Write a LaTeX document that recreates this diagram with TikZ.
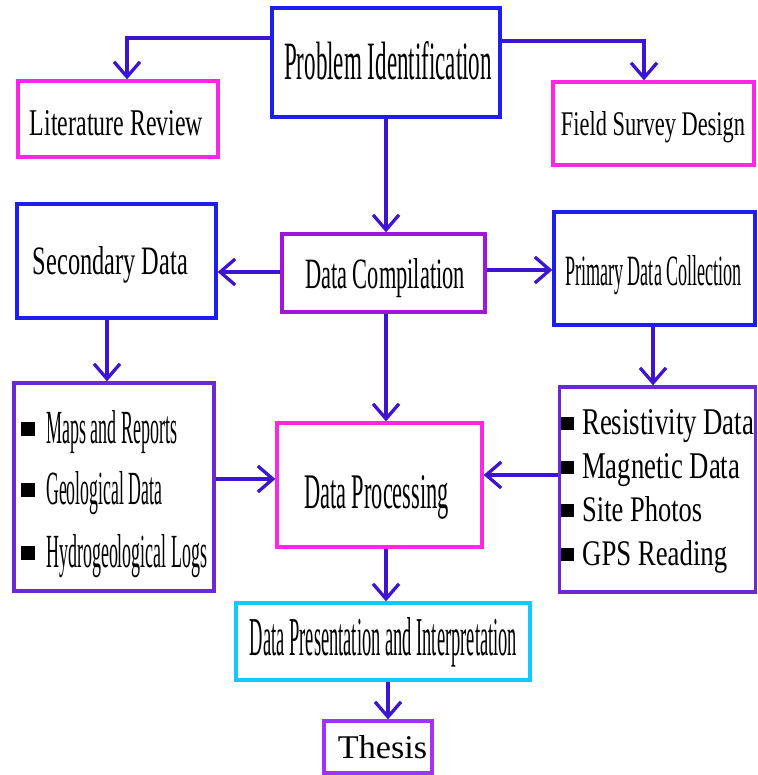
\documentclass[tikz,border=0pt]{standalone}
\usepackage{fontspec}
\setmainfont{Liberation Serif}
\usetikzlibrary{arrows.meta}
\definecolor{cBlue}{RGB}{30,30,240}
\definecolor{cMag}{RGB}{250,40,230}
\definecolor{cPur}{RGB}{160,20,220}
\definecolor{cVio}{RGB}{110,40,210}
\definecolor{cCyan}{RGB}{20,200,250}
\definecolor{cThe}{RGB}{160,50,250}
\definecolor{cArr}{RGB}{60,20,210}
\begin{document}
\begin{tikzpicture}[x=1pt,y=-1pt,
  bx/.style={draw, line width=3.3pt, inner sep=0pt, fill=white},
  txt/.style={anchor=base, inner sep=0pt, text=black},
  ltxt/.style={anchor=base west, inner sep=0pt, text=black},
  arr/.style={draw=cArr, line width=3.3pt, -{Straight Barb[length=15pt,width=26pt]}}]
\useasboundingbox[fill=white] (0,0) rectangle (757,775);
% boxes
\node[bx,draw=cBlue,minimum width=228pt,minimum height=109pt] (PI) at (386,62.5) {};
\node[bx,draw=cMag,minimum width=200pt,minimum height=76pt] (LR) at (118,119) {};
\node[bx,draw=cMag,minimum width=201pt,minimum height=83pt] (FSD) at (653.5,123.5) {};
\node[bx,draw=cBlue,minimum width=199pt,minimum height=114pt] (SD) at (116.5,261) {};
\node[bx,draw=cPur,minimum width=203pt,minimum height=78pt] (DC) at (383.5,273) {};
\node[bx,draw=cBlue,minimum width=201pt,minimum height=113pt] (PDC) at (654.5,268.5) {};
\node[bx,draw=cVio,minimum width=200pt,minimum height=208pt] (LL) at (114,487) {};
\node[bx,draw=cMag,minimum width=205pt,minimum height=124pt] (DP) at (379.5,485) {};
\node[bx,draw=cVio,minimum width=196pt,minimum height=205pt] (RL) at (657.5,489.5) {};
\node[bx,draw=cCyan,minimum width=294pt,minimum height=77pt] (DPI) at (383,641.5) {};
\node[bx,draw=cThe,minimum width=108pt,minimum height=52pt] (TH) at (378,747) {};
% texts
\node[txt] (PIt) at (388,80) {\resizebox{208pt}{38pt}{Problem Identification}};
\node[txt] (LRt) at (116.5,136) {\resizebox{173pt}{25pt}{Literature Review}};
\node[txt] (FSDt) at (653,136) {\resizebox{184pt}{24pt}{Field Survey Design}};
\node[txt] (SDt) at (110.5,274) {\resizebox{155pt}{28pt}{Secondary Data}};
\node[txt] (DCt) at (385,288) {\resizebox{160pt}{30pt}{Data Compilation}};
\node[txt] (PDCt) at (653.5,286) {\resizebox{177pt}{30pt}{Primary Data Collection}};
\node[txt] (DPt) at (376.5,508) {\resizebox{145pt}{33pt}{Data Processing}};
\node[txt] (DPIt) at (383.5,655) {\resizebox{267pt}{38pt}{Data Presentation and Interpretation}};
\node[txt] (THt) at (382.5,758) {\resizebox{89pt}{23pt}{Thesis}};
% left list
\node[ltxt] (L1) at (21,443) {\rule[7pt]{14pt}{14pt}\hspace{11pt}\resizebox{131pt}{33pt}{Maps and Reports}};
\node[ltxt] (L2) at (21,504) {\rule[7pt]{14pt}{14pt}\hspace{11pt}\resizebox{116pt}{33pt}{Geological Data}};
\node[ltxt] (L3) at (21,567) {\rule[7pt]{14pt}{14pt}\hspace{11pt}\resizebox{161pt}{33pt}{Hydrogeological Logs}};
% right list
\node[ltxt] (R1) at (561,434) {\rule[4pt]{13pt}{13pt}\hspace{8pt}\resizebox{172pt}{25pt}{Resistivity Data}};
\node[ltxt] (R2) at (561,478) {\rule[4pt]{13pt}{13pt}\hspace{8pt}\resizebox{158pt}{25pt}{Magnetic Data}};
\node[ltxt] (R3) at (561,521) {\rule[4pt]{13pt}{13pt}\hspace{8pt}\resizebox{120pt}{25pt}{Site Photos}};
\node[ltxt] (R4) at (561,565) {\rule[4pt]{13pt}{13pt}\hspace{8pt}\resizebox{145pt}{25pt}{GPS Reading}};
% connectors
\draw[arr] (PI.west |- 0,38) -| ([xshift=9pt]LR.north);
\draw[arr] (PI.east |- 0,41) -| (FSD.north -| 644,0);
\draw[arr] (PI.south -| 386,0) -- (DC.north -| 386,0);
\draw[arr] (DC.west |- 0,272) -- (SD.east |- 0,272);
\draw[arr] (DC.east |- 0,270) -- (PDC.west |- 0,270);
\draw[arr] (SD.south -| 107,0) -- (LL.north -| 107,0);
\draw[arr] (PDC.south -| 653,0) -- (RL.north -| 653,0);
\draw[arr] (DC.south -| 386,0) -- (DP.north -| 386,0);
\draw[arr] (LL.east |- 0,479) -- (DP.west |- 0,479);
\draw[arr] (RL.west |- 0,475) -- (DP.east |- 0,475);
\draw[arr] (DP.south -| 386,0) -- (DPI.north -| 386,0);
\draw[arr] (DPI.south -| 388,0) -- (TH.north -| 388,0);
\end{tikzpicture}
\end{document}
